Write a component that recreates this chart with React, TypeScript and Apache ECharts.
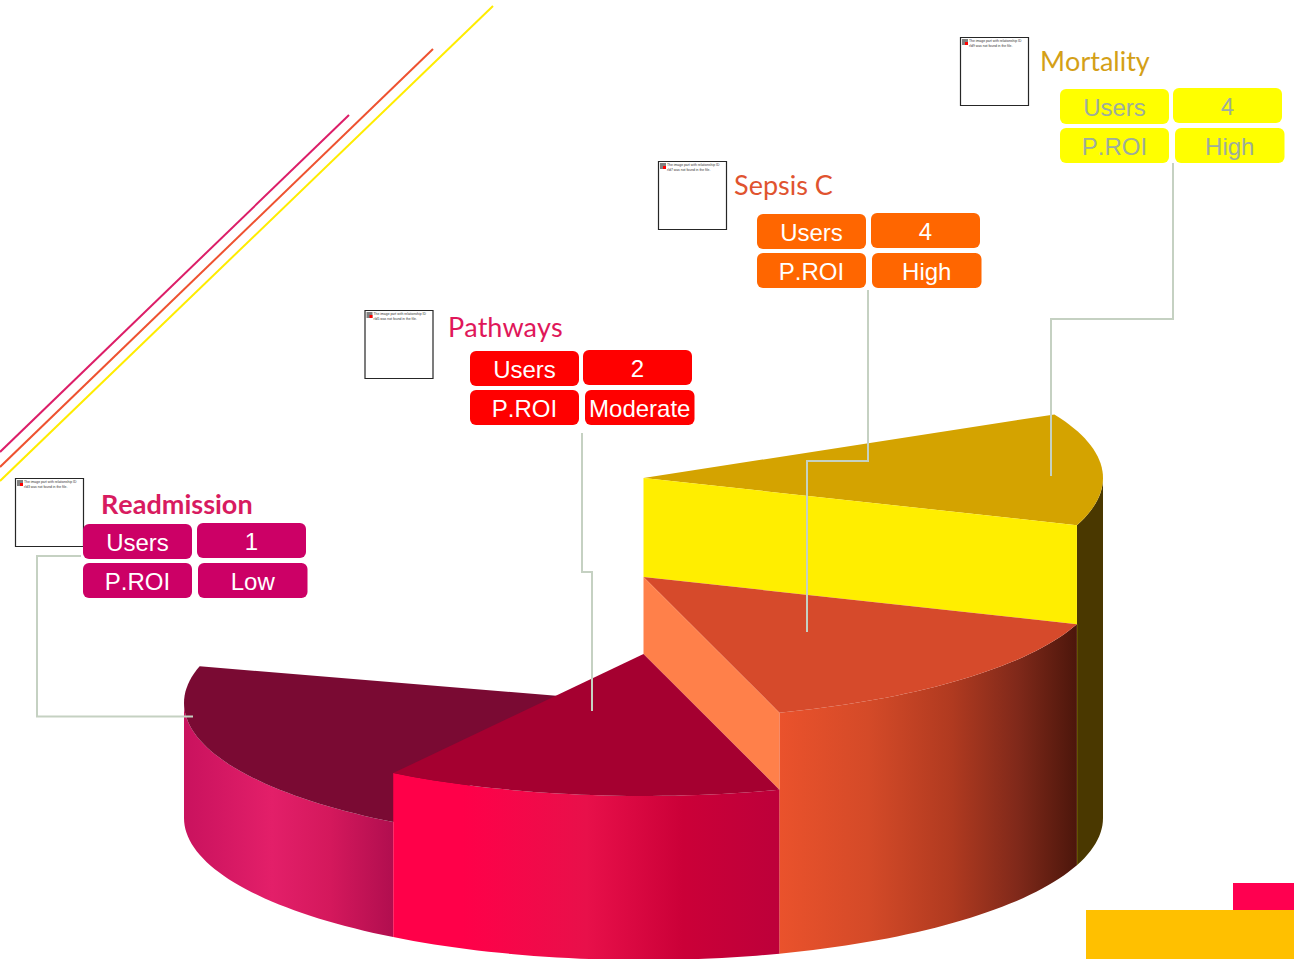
import React, { useEffect, useRef } from "react";
import * as echarts from "echarts";

// Initiatives, in left-to-right order around the stepped pie.
const categories = ["Readmission", "Pathways", "Sepsis C", "Mortality"];
const users = ["1", "2", "4", "4"];
const potentialRoi = ["Low", "Moderate", "High", "High"];
const rowLabels = ["Users", "P.ROI"];
const missingImageIds = ["rId3", "rId5", "rId7", "rId9"];

// Arc of each slice (degrees of ellipse parameter) and how tall its column stands.
const sliceSweep = [72, 50.2, 53.4, 46];
const sliceHeight = [115, 164, 241, 340];

const WIDTH = 1294;
const HEIGHT = 959;
const BASE = { cx: 643.5, cy: 818, rx: 459.5, ry: 142 };
const FIRST_ANGLE = -26.6;

const FONT_SANS = '"Liberation Sans", Arial, sans-serif';
const FONT_TITLE = 'Lato, "Noto Sans", sans-serif';
const LEADER = "#C5D1C2";

const sliceStyle = [
  {
    top: "#7A0A33",
    side: "#7A0A33",
    wall: [
      [0, "#C9125E"],
      [0.42, "#E31F69"],
      [0.7, "#D4185C"],
      [1, "#B10E4F"],
    ],
  },
  {
    top: "#A50030",
    side: "#A50030",
    wall: [
      [0, "#FF0049"],
      [0.18, "#FF0049"],
      [0.5, "#E8104A"],
      [0.75, "#CB0038"],
      [1, "#BD003A"],
    ],
  },
  {
    top: "#D64A2B",
    side: "#FF804A",
    wall: [
      [0, "#EA522C"],
      [0.3, "#D44A28"],
      [0.58, "#B03A20"],
      [0.8, "#80291A"],
      [1, "#4C160B"],
    ],
  },
  {
    top: "#D4A300",
    side: "#FFEE00",
    wall: [
      [0, "#4A3800"],
      [1, "#4A3800"],
    ],
  },
];

const callouts = [
  { title: "#D81B60", weight: "bold", text: "#FFFFFF", fill: "#CC0066", cell: [83, 524], valueDx: 114, titleAt: [101, 517], frame: [15, 478], leader: [[81, 556], [37, 556], [37, 716.5], [193, 716.5]] },
  { title: "#E0175A", weight: "normal", text: "#FFFFFF", fill: "#FF0000", cell: [470, 351], valueDx: 113, titleAt: [448, 340], frame: [364.5, 310], leader: [[582, 433], [582, 572], [592, 572], [592, 711]] },
  { title: "#E0532F", weight: "normal", text: "#FFFFFF", fill: "#FF6600", cell: [757, 214], valueDx: 114, titleAt: [734, 198], frame: [658, 161], leader: [[868, 290], [868, 461], [807, 461], [807, 632]] },
  { title: "#D4A017", weight: "normal", text: "#9DAD9D", fill: "#FFFF00", cell: [1060, 89], valueDx: 113, titleAt: [1040, 74], frame: [960, 37], leader: [[1173, 163], [1173, 319], [1051, 319], [1051, 476]] },
];

const accentLines = [
  { from: [349, 115], to: [0, 452], color: "#DC1E68" },
  { from: [433, 49], to: [0, 467], color: "#EE5230" },
  { from: [493, 6], to: [0, 481], color: "#FFEC00" },
];

const rad = (deg: number) => (deg * Math.PI) / 180;

function arc(from: number, to: number, cy: number) {
  const pts: number[][] = [];
  const steps = Math.max(2, Math.ceil(Math.abs(to - from) / 1.5));
  for (let i = 0; i <= steps; i++) {
    const t = rad(from + ((to - from) * i) / steps);
    pts.push([BASE.cx + BASE.rx * Math.cos(t), cy + BASE.ry * Math.sin(t)]);
  }
  return pts;
}

// One custom-series row per slice; painted from the back of the pie to the front.
function sliceRows() {
  const starts: number[] = [];
  let angle = FIRST_ANGLE;
  for (let i = categories.length - 1; i >= 0; i--) {
    starts[i] = angle;
    angle += sliceSweep[i];
  }
  return [3, 2, 0, 1].map((i) => {
    const nextLower = i > 0 ? sliceHeight[i - 1] : 0;
    return [starts[i], sliceSweep[i], sliceHeight[i], i, nextLower];
  });
}

function renderSlice(_params: any, api: any) {
  const start = api.value(0);
  const end = start + api.value(1);
  const height = api.value(2);
  const idx = api.value(3);
  const lower = api.value(4);
  const look = sliceStyle[idx];
  const project = (pts: number[][]) => pts.map((p) => api.coord(p));
  const topY = BASE.cy - height;
  const children: any[] = [];

  const wallFrom = Math.max(start, 0);
  const wallTo = Math.min(end, 180);
  const gradient = new echarts.graphic.LinearGradient(
    0,
    0,
    1,
    0,
    look.wall.map(([offset, color]) => ({ offset: offset as number, color: color as string }))
  );
  if (wallTo > wallFrom) {
    children.push({
      type: "polygon",
      shape: {
        points: project([
          ...arc(wallFrom, wallTo, topY),
          ...arc(wallTo, wallFrom, BASE.cy),
        ]),
      },
      style: { fill: gradient },
    });
  }

  children.push({
    type: "polygon",
    shape: { points: project([[BASE.cx, topY], ...arc(start, end, topY)]) },
    style: { fill: look.top },
  });

  // The cut face at the clockwise end shows only while it turns towards the viewer.
  if (Math.cos(rad(end)) > 0) {
    const rim = arc(end, end, topY)[0];
    const floorY = BASE.cy - lower;
    const rimLow = [rim[0], rim[1] + height - lower];
    children.push({
      type: "polygon",
      shape: {
        points: project([[BASE.cx, topY], rim, rimLow, [BASE.cx, floorY]]),
      },
      style: { fill: look.side },
    });
    children.push({
      type: "line",
      shape: (() => {
        const a = api.coord(rimLow);
        const b = api.coord([rim[0], rim[1] + height]);
        return { x1: a[0], y1: a[1], x2: b[0], y2: b[1] };
      })(),
      style: { stroke: look.side, opacity: 0.35, lineWidth: 1 },
    });
  }

  return { type: "group", children };
}

function cell(x: number, y: number, w: number, label: string, fill: string, color: string) {
  return [
    {
      type: "rect",
      z: 20,
      shape: { x, y, width: w, height: 35, r: 6 },
      style: { fill },
    },
    {
      type: "text",
      z: 21,
      style: {
        text: label,
        x: x + w / 2,
        y: y + 18,
        textAlign: "center",
        textVerticalAlign: "middle",
        fill: color,
        fontFamily: FONT_SANS,
        fontSize: 24,
      },
    },
  ];
}

function calloutGraphics() {
  const out: any[] = [];
  callouts.forEach((c, i) => {
    const [fx, fy] = c.frame;
    out.push(
      {
        type: "rect",
        z: 15,
        shape: { x: fx + 0.5, y: fy + 0.5, width: 68, height: 68 },
        style: { fill: "#FFFFFF", stroke: "#262626", lineWidth: 1.2 },
      },
      {
        type: "rect",
        z: 16,
        shape: { x: fx + 2, y: fy + 2, width: 6, height: 6 },
        style: { fill: "#808080" },
      },
      {
        type: "rect",
        z: 17,
        shape: { x: fx + 5, y: fy + 5, width: 3, height: 3 },
        style: { fill: "#FF0000" },
      },
      {
        type: "text",
        z: 17,
        style: {
          text: `The image part with relationship ID\n${missingImageIds[i]} was not found in the file.`,
          x: fx + 9,
          y: fy + 2,
          fill: "#333333",
          fontFamily: FONT_SANS,
          fontSize: 3.4,
          lineHeight: 4.4,
        },
      },
      {
        type: "text",
        z: 21,
        style: {
          text: categories[i],
          x: c.titleAt[0],
          y: c.titleAt[1],
          textVerticalAlign: "bottom",
          fill: c.title,
          fontFamily: FONT_TITLE,
          fontWeight: c.weight,
          fontSize: 27,
        },
      },
      {
        type: "polyline",
        z: 12,
        shape: { points: c.leader },
        style: { stroke: LEADER, lineWidth: 2, fill: "none" },
      }
    );
    const [cx, cy] = c.cell;
    out.push(
      ...cell(cx, cy, 109, rowLabels[0], c.fill, c.text),
      ...cell(cx + c.valueDx, cy - 1, 109, users[i], c.fill, c.text),
      ...cell(cx, cy + 39, 109, rowLabels[1], c.fill, c.text),
      ...cell(cx + 115, cy + 39, 109.5, potentialRoi[i], c.fill, c.text)
    );
  });
  return out;
}

function decorations() {
  return [
    ...accentLines.map((l) => ({
      type: "line",
      z: 1,
      shape: { x1: l.from[0], y1: l.from[1], x2: l.to[0], y2: l.to[1] },
      style: { stroke: l.color, lineWidth: 2 },
    })),
    {
      type: "rect",
      z: 1,
      shape: { x: 1233, y: 883, width: 61, height: 28 },
      style: { fill: "#FF0050" },
    },
    {
      type: "rect",
      z: 2,
      shape: { x: 1086, y: 910, width: 208, height: 49 },
      style: { fill: "#FFC000" },
    },
  ];
}

export default function App() {
  const ref = useRef<HTMLDivElement>(null);

  useEffect(() => {
    document.body.style.margin = "0";
    document.body.style.overflow = "hidden";
    const chart = echarts.init(ref.current!, undefined, { renderer: "svg" });
    chart.setOption({
      animation: false,
      backgroundColor: "#FFFFFF",
      grid: { left: 0, right: 0, top: 0, bottom: 0 },
      xAxis: { type: "value", min: 0, max: WIDTH, show: false },
      yAxis: { type: "value", min: 0, max: HEIGHT, inverse: true, show: false },
      series: [
        {
          type: "custom",
          coordinateSystem: "cartesian2d",
          clip: false,
          silent: true,
          z: 5,
          renderItem: renderSlice,
          data: sliceRows(),
        },
      ],
      graphic: { elements: [...decorations(), ...calloutGraphics()] },
    });
    return () => chart.dispose();
  }, []);

  return <div ref={ref} style={{ width: WIDTH, height: HEIGHT, fontKerning: "none" }} />;
}
